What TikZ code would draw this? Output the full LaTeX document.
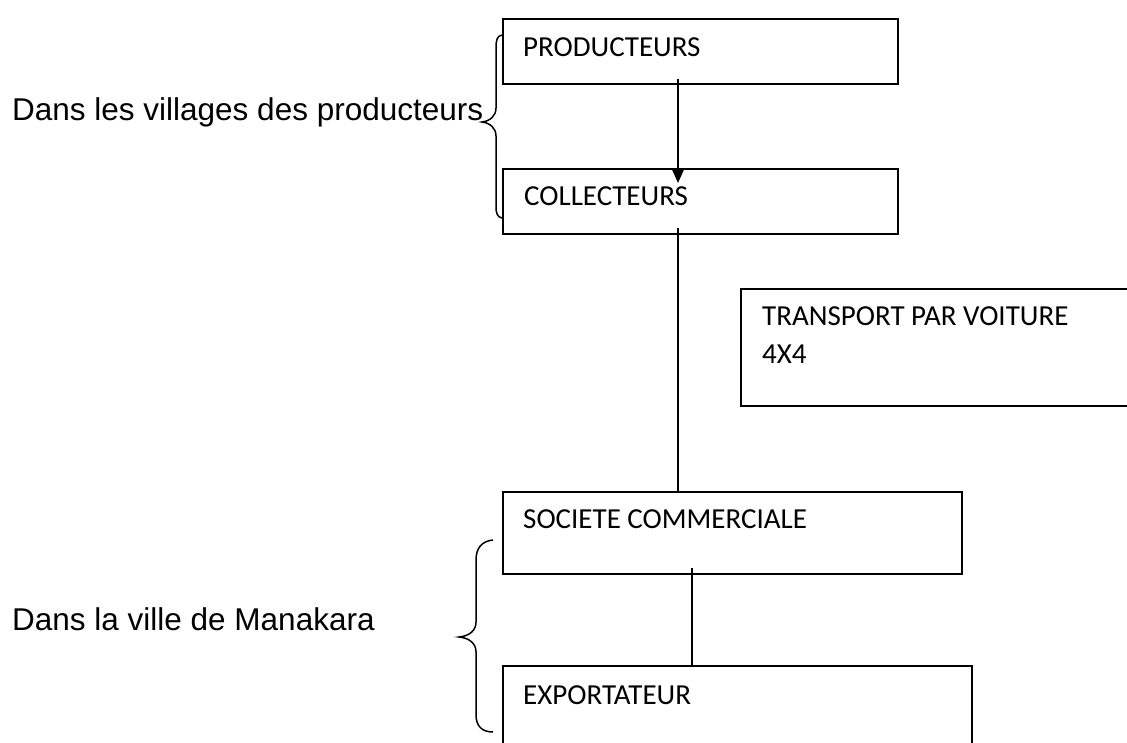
\documentclass[tikz,border=0pt]{standalone}
\usepackage{fontspec}
\setmainfont{Carlito}
\newfontfamily\arialfont{Liberation Sans}
\usetikzlibrary{arrows.meta}
\begin{document}
\begin{tikzpicture}[x=1pt,y=-1pt,
  boxshape/.style={draw=black,line width=1.8pt,rectangle,inner sep=0pt,anchor=north west},
  boxtext/.style={anchor=base west,inner sep=0pt,font=\fontsize{29}{35}\selectfont},
  sidetext/.style={anchor=base west,inner sep=0pt,font=\arialfont\fontsize{31.5}{38}\selectfont},
  link/.style={draw=black,line width=1.8pt},
  bracestroke/.style={draw=black,line width=1.5pt}]
\useasboundingbox (0,0) rectangle (1127,742);
\clip (0,0) rectangle (1127,742);

% boxes of the chain
\node[boxshape,minimum width=395pt,minimum height=65pt] (prod) at (502,18) {};
\node[boxshape,minimum width=395pt,minimum height=65pt] (coll) at (502,168) {};
\node[boxshape,minimum width=420pt,minimum height=117pt] (trans) at (740,288) {};
\node[boxshape,minimum width=459pt,minimum height=82pt] (soc) at (502,491) {};
\node[boxshape,minimum width=469pt,minimum height=110pt] (exp) at (502,665) {};

% box labels
\node[boxtext] (prodt) at ([xshift=21pt,yshift=-38pt]prod.north west) {PRODUCTEURS};
\node[boxtext] (collt) at ([xshift=22pt,yshift=-37pt]coll.north west) {COLLECTEURS};
\node[boxtext] (transt1) at ([xshift=22pt,yshift=-37pt]trans.north west) {TRANSPORT PAR VOITURE};
\node[boxtext] (transt2) at ([xshift=22pt,yshift=-75pt]trans.north west) {4X4};
\node[boxtext] (soct) at ([xshift=21pt,yshift=-37pt]soc.north west) {SOCIETE COMMERCIALE};
\node[boxtext] (expt) at ([xshift=21pt,yshift=-39pt]exp.north west) {EXPORTATEUR};

% side labels
\node[sidetext] (village) at (12,120) {Dans les villages des producteurs};
\node[sidetext] (ville) at (12,630) {Dans la ville de Manakara};

% connectors
\draw[link,-{Triangle[length=15pt,width=13pt]}]
  ([xshift=176pt,yshift=6pt]prod.south west) -- ([xshift=176pt,yshift=-15pt]coll.north west);
\draw[link] ([xshift=176pt,yshift=7pt]coll.south west) -- ([xshift=176pt]soc.north west);
\draw[link] ([xshift=190pt,yshift=7pt]soc.south west) -- ([xshift=190pt]exp.north west);

% braces
\draw[bracestroke] (502,35) .. controls (497,36) and (496,40) .. (496,48) -- (496,108)
  .. controls (496,116) and (490,121) .. (482,122)
  .. controls (490,123) and (496,128) .. (496,136) -- (496,206)
  .. controls (496,213) and (497,217) .. (502,218);
\draw[bracestroke] (493,540) .. controls (482,541) and (476,548) .. (476,560) -- (476,622)
  .. controls (476,630) and (470,636) .. (459,637)
  .. controls (470,638) and (476,644) .. (476,652) -- (476,715)
  .. controls (476,726) and (482,732) .. (493,732);
\end{tikzpicture}
\end{document}
